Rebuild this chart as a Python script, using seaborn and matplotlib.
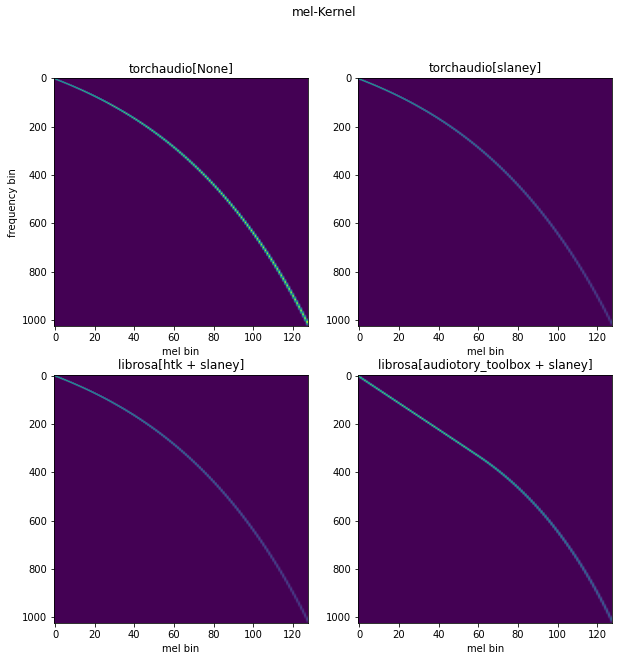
import numpy as np
import matplotlib
matplotlib.use("Agg")
import matplotlib.pyplot as plt
import seaborn as sns

# parameters of the mel kernels
sample_rate = 6000
n_fft = 2048
n_mels = 128
f_min = 0.0
f_max = sample_rate / 2

titles = ["torchaudio[None]", "torchaudio[slaney]",
          "librosa[htk + slaney]", "librosa[audiotory_toolbox + slaney]"]
x_label = "mel bin"
y_label = "frequency bin"
sup_title = "mel-Kernel"


def hz_to_mel(f, htk):
    f = np.asarray(f, dtype=float)
    if htk:
        return 2595.0 * np.log10(1.0 + f / 700.0)
    f_sp = 200.0 / 3
    mels = f / f_sp
    logstep = np.log(6.4) / 27.0
    return np.where(f >= 1000.0, 15.0 + np.log(np.maximum(f, 1e-10) / 1000.0) / logstep, mels)


def mel_to_hz(m, htk):
    m = np.asarray(m, dtype=float)
    if htk:
        return 700.0 * (10.0 ** (m / 2595.0) - 1.0)
    f_sp = 200.0 / 3
    logstep = np.log(6.4) / 27.0
    return np.where(m >= 15.0, 1000.0 * np.exp(logstep * (m - 15.0)), f_sp * m)


def mel_fbank(htk, norm):
    freqs = np.linspace(0, sample_rate / 2, n_fft // 2 + 1)
    m_pts = np.linspace(hz_to_mel(f_min, htk), hz_to_mel(f_max, htk), n_mels + 2)
    f_pts = mel_to_hz(m_pts, htk)
    f_diff = np.diff(f_pts)
    slopes = f_pts[None, :] - freqs[:, None]
    down = -slopes[:, :-2] / f_diff[:-1]
    up = slopes[:, 2:] / f_diff[1:]
    fb = np.maximum(0, np.minimum(down, up))
    if norm == "slaney":
        fb *= 2.0 / (f_pts[2:n_mels + 2] - f_pts[:n_mels])[None, :]
    return fb  # (freq bins, mel bins)


kernels = [mel_fbank(True, None), mel_fbank(True, "slaney"),
           mel_fbank(True, "slaney"), mel_fbank(False, "slaney")]

sns.set_style("ticks", {"axes.edgecolor": "black", "text.color": "black",
                        "xtick.color": "black", "ytick.color": "black",
                        "axes.labelcolor": "black"})
plt.rcParams["font.family"] = ["DejaVu Sans"]
plt.rcParams["font.size"] = 10
cmap = sns.color_palette("viridis", as_cmap=True)

fig, axes = plt.subplots(2, 2, figsize=(618 / 72, 660 / 72), dpi=72)
fig.subplots_adjust(left=0.0874, right=0.9903, top=0.8814, bottom=0.0558,
                     wspace=0.2, hspace=0.2)

for ax, kern, title in zip(axes.flat, kernels, titles):
    ax.imshow(kern, aspect="auto", cmap=cmap, interpolation_stage="data")
    ax.set_title(title, fontsize=12)
    ax.set_xlabel(x_label)
    ax.set_xticks(np.arange(0, 121, 20))
    ax.set_yticks(np.arange(0, 1001, 200))
axes[0, 0].set_ylabel(y_label)

fig.suptitle(sup_title, x=0.524, y=0.981, va="center", fontsize=12)
fig.savefig("out.png", dpi=72)
